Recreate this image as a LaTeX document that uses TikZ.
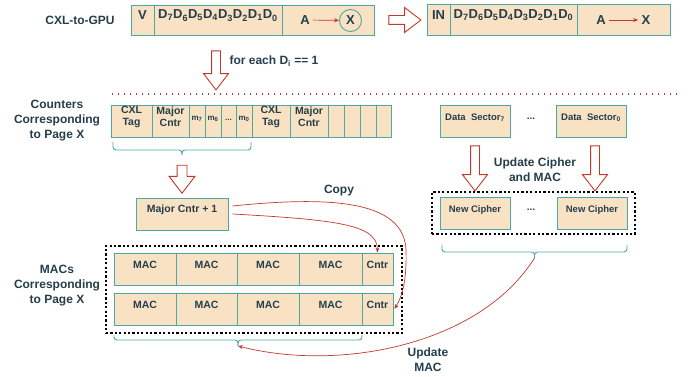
\documentclass[tikz,border=0pt]{standalone}
\usepackage{fontspec}
\setmainfont{Liberation Sans}
\usetikzlibrary{fit,shapes.arrows,arrows.meta}
\definecolor{peach}{HTML}{F9E2C4}
\definecolor{tealc}{HTML}{4BA9A3}
\definecolor{ink}{HTML}{253E4C}
\definecolor{redc}{HTML}{C0392B}
\newcommand\cellnode[6]{\node[cellbox, fit={(#2,#3) (#4,#5)}] (#1) {#6};}
\newcommand\bracepath[6]{% name x1 x2 y0 ym ytip (xm = midpoint)
  \coordinate (#1) at ({(#2+#3)/2},#6);
  \draw[brc] (#2,#4) |- ({(#2+#3)/2},#5) -- (#1);
  \draw[brc] (#3,#4) |- ({(#2+#3)/2},#5) -- (#1);}
\tikzset{
 cellbox/.style={draw=tealc, fill=peach, line width=0.9pt, inner sep=0pt, text=ink, align=center,
   font=\bfseries\fontsize{10.5}{12}\selectfont},
 lbl/.style={font=\bfseries\fontsize{12}{15}\selectfont, text=ink, align=center},
 toptxt/.style={font=\bfseries\fontsize{13}{14}\selectfont, text=ink},
 hollow/.style={single arrow, draw=redc, fill=white, line width=0.9pt, inner sep=4pt,
   single arrow head extend=8pt, single arrow tip angle=75, minimum height=#1},
 redarr/.style={draw=redc, line width=0.7pt, -{Stealth[length=5pt,width=4pt]}},
 brc/.style={draw=tealc, line width=0.9pt, rounded corners=3pt},
 dotbox/.style={draw=black, line width=2.2pt, dash pattern=on 2.2pt off 2.2pt, inner sep=0pt},
 reddot/.style={draw=redc, line width=1.2pt, dash pattern=on 1.2pt off 4.8pt},
}
\begin{document}
\begin{tikzpicture}[x=1pt,y=-1pt]
\useasboundingbox (0,0) rectangle (697,377);

% ---- top row
\node[lbl] (cxl) at (80,20) {CXL-to-GPU};
\cellnode{v1}{131}{5}{154}{35}{\fontsize{13}{14}\selectfont V}
\cellnode{d1}{154}{5}{282}{35}{\fontsize{13}{14}\selectfont D\textsubscript{7}D\textsubscript{6}D\textsubscript{5}D\textsubscript{4}D\textsubscript{3}D\textsubscript{2}D\textsubscript{1}D\textsubscript{0}}
\cellnode{a1}{282}{5}{374}{35}{}
\node[toptxt] (aA1) at (305,20) {A};
\node[toptxt, circle, draw=tealc, line width=0.9pt, minimum size=22pt, inner sep=0pt] (aX1) at (350.5,20.5) {X};
\draw[redarr] (aA1) -- (aX1);

\node[hollow=32pt] (rarrow) at (402,20) {};

\cellnode{in2}{427}{4}{450}{35}{\fontsize{13}{14}\selectfont IN}
\cellnode{d2}{450}{4}{577}{35}{\fontsize{13}{14}\selectfont D\textsubscript{7}D\textsubscript{6}D\textsubscript{5}D\textsubscript{4}D\textsubscript{3}D\textsubscript{2}D\textsubscript{1}D\textsubscript{0}}
\cellnode{a2}{577}{4}{670}{35}{}
\node[toptxt] (aA2) at (601,20) {A};
\node[toptxt] (aX2) at (646,20) {X};
\draw[redarr] (aA2) -- (aX2);

\node[hollow=39pt, shape border rotate=270] (farrow) at (216,67.5) {};
\node[lbl, anchor=west] (foreach) at (226,61) {for each D\textsubscript{i} == 1};

\draw[reddot] (112,94) -- (677,94);

% ---- counters
\node[lbl] (cntlbl) at (57,121) {Counters\\Corresponding\\to Page X};
\cellnode{c1}{111}{105}{152}{137}{CXL\\Tag}
\cellnode{c2}{152}{105}{189}{137}{Major\\Cntr}
\cellnode{c3}{189}{105}{205}{137}{\fontsize{8}{9}\selectfont m\textsubscript{7}}
\cellnode{c4}{205}{105}{221}{137}{\fontsize{8}{9}\selectfont m\textsubscript{6}}
\cellnode{c5}{221}{105}{236}{137}{\fontsize{8}{9}\selectfont ...}
\cellnode{c6}{236}{105}{252}{137}{\fontsize{8}{9}\selectfont m\textsubscript{0}}
\cellnode{c7}{252}{105}{290}{137}{CXL\\Tag}
\cellnode{c8}{290}{105}{328}{137}{Major\\Cntr}
\cellnode{c9}{328}{105}{344}{137}{}
\cellnode{c10}{344}{105}{360}{137}{}
\cellnode{c11}{360}{105}{376}{137}{}
\cellnode{c12}{376}{105}{391}{137}{}
\bracepath{cntTip}{113}{251}{142}{150}{155}

\node[hollow=28pt, inner sep=4.5pt, shape border rotate=270] (carrow) at (182,176) {};
\cellnode{mc}{136}{198}{228}{230}{Major Cntr + 1}
\node[lbl] (copy) at (339,191) {Copy};

% ---- MACs
\node[lbl] (maclbl) at (57,286) {MACs\\Corresponding\\to Page X};
\node[dotbox, fit={(106,246) (402,333)}] (macbox) {};
\cellnode{m11}{114}{253}{176}{285}{MAC}
\cellnode{m12}{176}{253}{237}{285}{MAC}
\cellnode{m13}{237}{253}{299}{285}{MAC}
\cellnode{m14}{299}{253}{362}{285}{MAC}
\cellnode{cn1}{362}{253}{393}{285}{Cntr}
\cellnode{m21}{114}{293}{176}{325}{MAC}
\cellnode{m22}{176}{293}{237}{325}{MAC}
\cellnode{m23}{237}{293}{299}{325}{MAC}
\cellnode{m24}{299}{293}{362}{325}{MAC}
\cellnode{cn2}{362}{293}{393}{325}{Cntr}
\bracepath{macTip}{114}{362}{335}{340}{346}

\draw[redarr] ([xshift=4pt]mc.east) .. controls (340,220) and (377,225) .. (cn1.north);
\draw[redarr] ([xshift=4pt,yshift=8pt]mc.east) .. controls (330,196) and (404,200) .. (406,250)
   .. controls (407,280) and (402,297) .. ([xshift=1pt]cn2.east);

% ---- right side
\cellnode{ds7}{440}{105}{510}{137}{\fontsize{9.5}{11}\selectfont Data\ \ Sector\textsubscript{7}}
\node[text=ink, font=\bfseries\fontsize{10}{11}\selectfont] (dsdots) at (531,119) {...};
\cellnode{ds0}{556}{105}{626}{137}{\fontsize{9.5}{11}\selectfont Data\ \ Sector\textsubscript{0}}
\node[hollow=45pt, shape border rotate=270] (darrow1) at (475,165.5) {};
\node[hollow=45pt, shape border rotate=270] (darrow2) at (595,165.5) {};
\node[lbl] (upd) at (535,169.5) {Update Cipher\\and MAC};
\node[dotbox, fit={(432,192) (635,234)}] (cipbox) {};
\cellnode{nc1}{440}{197}{510}{229}{\fontsize{9.5}{11}\selectfont New Cipher}
\node[text=ink, font=\bfseries\fontsize{10}{11}\selectfont] (ncdots) at (531,210) {...};
\cellnode{nc2}{557}{197}{627}{229}{\fontsize{9.5}{11}\selectfont New Cipher}
\bracepath{rTip}{442}{627}{245}{252}{258}

\draw[redarr] (rTip) .. controls (480,345) and (340,372) .. (macTip);
\node[lbl] (updmac) at (428,360) {Update\\MAC};
\end{tikzpicture}
\end{document}
